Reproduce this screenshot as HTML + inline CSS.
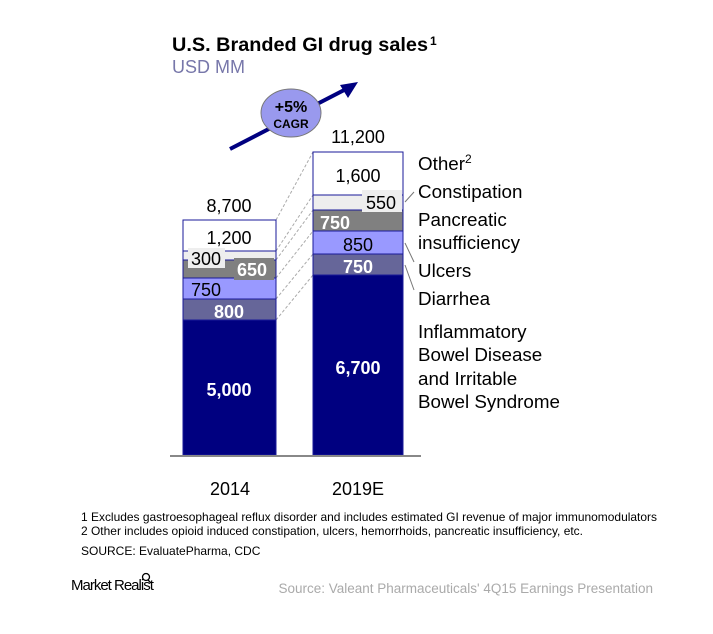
<!DOCTYPE html>
<html><head><style>body{margin:0;background:#fff}svg text{font-family:"Liberation Sans",Arial,sans-serif}</style></head>
<body>
<svg width="713" height="629" viewBox="0 0 713 629" xmlns="http://www.w3.org/2000/svg">
<text x="172" y="51" font-size="19" font-weight="bold" textLength="256" lengthAdjust="spacingAndGlyphs">U.S. Branded GI drug sales</text>
<text x="430" y="45" font-size="12" font-weight="bold">1</text>
<text x="172" y="73" font-size="18" fill="#7777aa">USD MM</text>
<line x1="230" y1="149" x2="350" y2="87" stroke="#000080" stroke-width="4"/>
<polygon points="358,82 340,85 348,98" fill="#000080"/>
<ellipse cx="291" cy="113" rx="30" ry="24" fill="#9999ee" stroke="#777" stroke-width="1"/>
<text x="291" y="112" font-size="16" font-weight="bold" text-anchor="middle">+5%</text>
<text x="291" y="128" font-size="12" font-weight="bold" text-anchor="middle">CAGR</text>
<g stroke="#aaa" stroke-width="1" stroke-dasharray="3,2">
<line x1="276" y1="220" x2="313" y2="152"/>
<line x1="276" y1="251" x2="313" y2="195"/>
<line x1="276" y1="260" x2="313" y2="210"/>
<line x1="276" y1="278" x2="313" y2="231"/>
<line x1="276" y1="299" x2="313" y2="254"/>
<line x1="276" y1="320" x2="313" y2="275"/>
</g>
<g stroke="#1a1a99" stroke-width="1">
<rect x="183" y="220" width="93" height="31" fill="#fff"/>
<rect x="183" y="251" width="93" height="9" fill="#eeeeee"/>
<rect x="183" y="260" width="93" height="18" fill="#808080"/>
<rect x="183" y="278" width="93" height="21" fill="#9999ff"/>
<rect x="183" y="299" width="93" height="21" fill="#666699"/>
<rect x="183" y="320" width="93" height="135" fill="#000080"/>
</g>
<rect x="188" y="248" width="37" height="20" fill="#eee"/>
<rect x="234" y="258" width="40" height="22" fill="#808080"/>
<g stroke="#1a1a99" stroke-width="1">
<rect x="313" y="152" width="90" height="43" fill="#fff"/>
<rect x="313" y="195" width="90" height="15" fill="#eeeeee"/>
<rect x="313" y="210" width="90" height="21" fill="#808080"/>
<rect x="313" y="231" width="90" height="23" fill="#9999ff"/>
<rect x="313" y="254" width="90" height="21" fill="#666699"/>
<rect x="313" y="275" width="90" height="180" fill="#000080"/>
</g>
<rect x="362" y="190" width="40" height="22" fill="#eee"/>
<line x1="170" y1="456" x2="421" y2="456" stroke="#888" stroke-width="2"/>
<g font-size="18" text-anchor="middle">
<text x="229" y="212">8,700</text>
<text x="229" y="244">1,200</text>
<text x="206" y="265">300</text>
<text x="252" y="276" fill="#fff" font-weight="bold">650</text>
<text x="206" y="296">750</text>
<text x="229" y="318" fill="#fff" font-weight="bold">800</text>
<text x="229" y="396" fill="#fff" font-weight="bold">5,000</text>
<text x="358" y="143">11,200</text>
<text x="358" y="182">1,600</text>
<text x="381" y="209">550</text>
<text x="335" y="229" fill="#fff" font-weight="bold">750</text>
<text x="358" y="251">850</text>
<text x="358" y="273" fill="#fff" font-weight="bold">750</text>
<text x="358" y="374" fill="#fff" font-weight="bold">6,700</text>
<text x="230" y="495">2014</text>
<text x="358" y="495">2019E</text>
</g>
<g stroke="#777" stroke-width="1">
<line x1="405" y1="202" x2="414" y2="192"/>
<line x1="405" y1="243" x2="414" y2="262"/>
<line x1="405" y1="265" x2="414" y2="290"/>
</g>
<g font-size="18.8">
<text x="418" y="170">Other<tspan font-size="12" dy="-7">2</tspan></text>
<text x="418" y="198">Constipation</text>
<text x="418" y="226">Pancreatic</text>
<text x="418" y="249">insufficiency</text>
<text x="418" y="277">Ulcers</text>
<text x="418" y="305">Diarrhea</text>
<text x="418" y="338">Inflammatory</text>
<text x="418" y="361">Bowel Disease</text>
<text x="418" y="385">and Irritable</text>
<text x="418" y="408">Bowel Syndrome</text>
</g>
<g font-size="12">
<text x="81" y="521" textLength="576" lengthAdjust="spacingAndGlyphs">1 Excludes gastroesophageal reflux disorder and includes estimated GI revenue of major immunomodulators</text>
<text x="81" y="535" textLength="502" lengthAdjust="spacingAndGlyphs">2 Other includes opioid induced constipation, ulcers, hemorrhoids, pancreatic insufficiency, etc.</text>
<text x="81" y="555">SOURCE: EvaluatePharma, CDC</text>
</g>
<text x="71" y="590" font-size="15" letter-spacing="-1">Market Realist</text>
<circle cx="146" cy="577" r="3.5" fill="none" stroke="#000" stroke-width="1.3"/>
<line x1="148" y1="580" x2="151" y2="583" stroke="#000" stroke-width="1.3"/>
<text x="653" y="593" font-size="13.5" fill="#aaa" text-anchor="end">Source:  Valeant Pharmaceuticals' 4Q15 Earnings Presentation</text>
</svg>
</body></html>
